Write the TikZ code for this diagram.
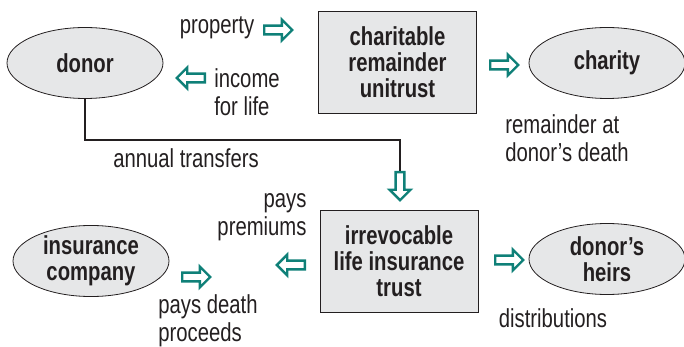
\documentclass[tikz,border=0pt]{standalone}
\usepackage{fontspec}
\setmainfont{Liberation Sans}[FakeStretch=0.78]
\usetikzlibrary{shapes.geometric,shapes.arrows}
\definecolor{boxgray}{HTML}{E6E7E8}
\definecolor{inkgray}{HTML}{231F20}
\definecolor{arrowteal}{HTML}{0F8078}
\tikzset{
  oval/.style={ellipse, draw=inkgray, line width=0.8pt, fill=boxgray, minimum width=156pt, minimum height=71pt, inner sep=0pt, align=center, font=\bfseries\fontsize{26}{26}\selectfont},
  trustbox/.style={rectangle, draw=inkgray, line width=0.8pt, fill=boxgray, minimum width=158pt, minimum height=102pt, inner sep=0pt, align=center, font=\bfseries\fontsize{26}{26}\selectfont},
  label/.style={text=inkgray, inner sep=0pt, font=\fontsize{26}{28}\selectfont},
  hollow/.style={single arrow, draw=arrowteal, line width=2.4pt, fill=white, inner sep=3.2pt, single arrow head extend=6pt, minimum height=28pt},
}
\begin{document}
\begin{tikzpicture}[x=1pt,y=-1pt, text=inkgray]
            \useasboundingbox (0,0) rectangle (684,347);
            % top row: charitable remainder unitrust
            \node[oval] (donor) at (85,63) {donor};
            \node[trustbox] (crut) at (397.5,62.5) {charitable\\remainder\\unitrust};
            \node[oval] (charity) at (607,63) {charity};

            \node[label] (property) at (217,28) {property};
            \node[hollow] (give) at (276,30) {};
            \node[hollow, shape border rotate=180] (back) at (193,78) {};
            \node[label, align=left] (income) at (247,92) {income\\for life};
            \node[hollow] (rest) at (502,65) {};
            \node[label, align=left] (remainder) at (567,138) {remainder at\\donor’s death};

            % link down to the insurance trust
            \coordinate (bend) at (400,140);
            \node[hollow, shape border rotate=270] (fund) at (400,184) {};
            \draw[line width=2pt, inkgray] (donor.south) |- (bend) -- (fund.north);
            \node[label] (annual) at (186,158) {annual transfers};

            % bottom row: irrevocable life insurance trust
            \node[oval] (insurer) at (91,261) {insurance\\company};
            \node[trustbox] (ilit) at (399,261.5) {irrevocable\\life insurance\\trust};
            \node[oval] (heirs) at (607,259) {donor’s\\heirs};

            \node[label, align=right] (premiums) at (262,217) {pays\\premiums};
            \node[hollow, shape border rotate=180] (pay) at (293,265) {};
            \node[hollow] (proceeds) at (194,277) {};
            \node[label, align=left] (death) at (208,321) {pays death\\proceeds};
            \node[hollow] (share) at (507,260) {};
            \node[label] (distributions) at (553,318) {distributions};
        \end{tikzpicture}
\end{document}
